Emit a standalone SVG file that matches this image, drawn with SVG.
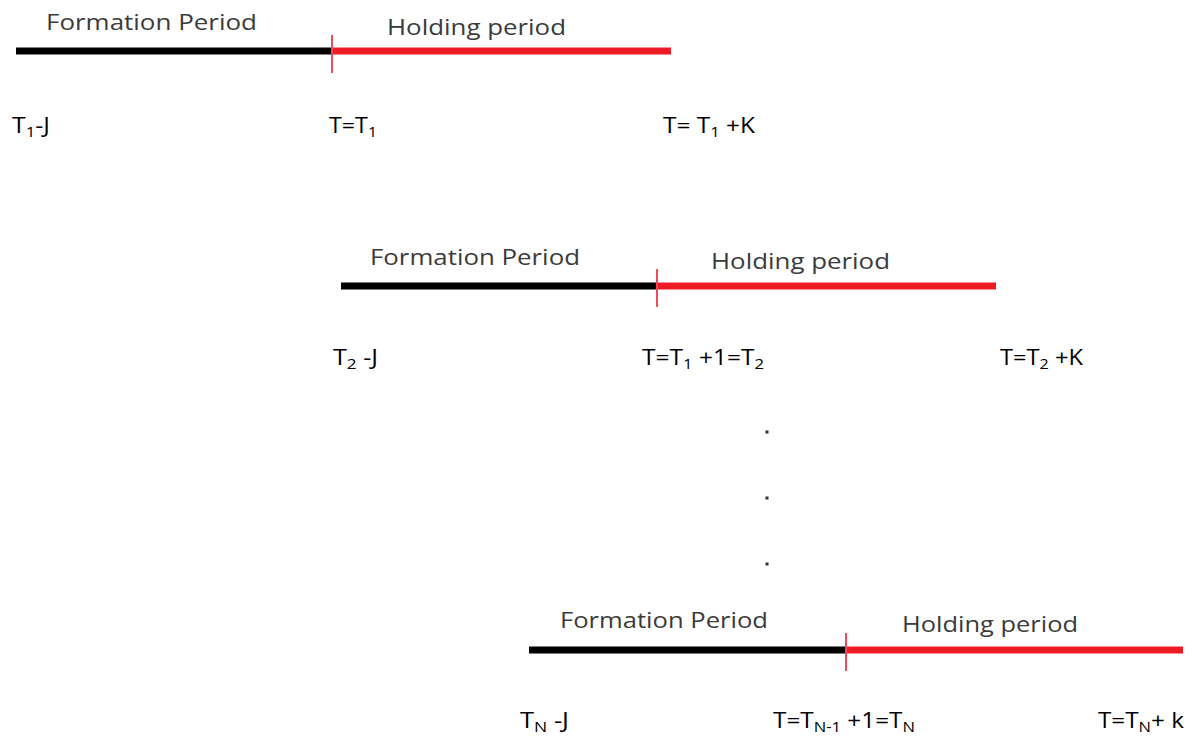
<svg xmlns="http://www.w3.org/2000/svg" width="1193" height="739" viewBox="0 0 1193 739">
<style>
.hdr{font-family:"Open Sans","Liberation Sans",sans-serif;font-size:22px;fill:#3b3b3b}
.lbl{font-family:"Open Sans","Liberation Sans",sans-serif;font-size:22px;fill:#000}
.sub{font-size:15px}
.form{stroke:#000;stroke-width:7;fill:none}
.hold{stroke:#ed1c24;stroke-width:7;fill:none}
.tick{stroke:#ef4a5a;stroke-width:2;fill:none}
.dot{fill:#333}
</style>
<rect width="1193" height="739" fill="#fff"/>
<g id="timeline1">
  <line class="form" x1="16" y1="51" x2="332" y2="51"/>
  <line class="hold" x1="332" y1="51" x2="671" y2="51"/>
  <line class="tick" x1="332" y1="35" x2="332" y2="73"/>
  <text class="hdr" x="46" y="30" textLength="211" lengthAdjust="spacingAndGlyphs">Formation Period</text>
  <text class="hdr" x="387" y="35" textLength="179" lengthAdjust="spacingAndGlyphs">Holding period</text>
  <text class="lbl" x="12" y="133" textLength="38" lengthAdjust="spacingAndGlyphs">T<tspan class="sub" dy="4">1</tspan><tspan dy="-4">-J</tspan></text>
  <text class="lbl" x="329" y="133" textLength="48" lengthAdjust="spacingAndGlyphs">T=T<tspan class="sub" dy="4">1</tspan></text>
  <text class="lbl" x="663" y="133" textLength="92" lengthAdjust="spacingAndGlyphs">T= T<tspan class="sub" dy="4">1</tspan><tspan dy="-4"> +K</tspan></text>
</g>
<g id="timeline2">
  <line class="form" x1="341" y1="286" x2="657" y2="286"/>
  <line class="hold" x1="657" y1="286" x2="996" y2="286"/>
  <line class="tick" x1="657" y1="269" x2="657" y2="307"/>
  <text class="hdr" x="370" y="265" textLength="210" lengthAdjust="spacingAndGlyphs">Formation Period</text>
  <text class="hdr" x="711" y="269" textLength="179" lengthAdjust="spacingAndGlyphs">Holding period</text>
  <text class="lbl" x="333" y="365" textLength="45" lengthAdjust="spacingAndGlyphs">T<tspan class="sub" dy="4">2</tspan><tspan dy="-4"> -J</tspan></text>
  <text class="lbl" x="642" y="365" textLength="122" lengthAdjust="spacingAndGlyphs">T=T<tspan class="sub" dy="4">1</tspan><tspan dy="-4"> +1=T</tspan><tspan class="sub" dy="4">2</tspan></text>
  <text class="lbl" x="1000" y="365" textLength="83" lengthAdjust="spacingAndGlyphs">T=T<tspan class="sub" dy="4">2</tspan><tspan dy="-4"> +K</tspan></text>
</g>
<g id="ellipsis">
  <rect class="dot" x="765.5" y="430.5" width="3" height="3"/>
  <rect class="dot" x="765.5" y="496.5" width="3" height="3"/>
  <rect class="dot" x="765.5" y="562.5" width="3" height="3"/>
</g>
<g id="timeline3">
  <line class="form" x1="529" y1="650" x2="847" y2="650"/>
  <line class="hold" x1="847" y1="650" x2="1183" y2="650"/>
  <line class="tick" x1="846" y1="633" x2="846" y2="671"/>
  <text class="hdr" x="560" y="628" textLength="208" lengthAdjust="spacingAndGlyphs">Formation Period</text>
  <text class="hdr" x="902" y="632" textLength="176" lengthAdjust="spacingAndGlyphs">Holding period</text>
  <text class="lbl" x="520" y="728" textLength="49" lengthAdjust="spacingAndGlyphs">T<tspan class="sub" dy="4">N</tspan><tspan dy="-4"> -J</tspan></text>
  <text class="lbl" x="773" y="728" textLength="142" lengthAdjust="spacingAndGlyphs">T=T<tspan class="sub" dy="4">N-1</tspan><tspan dy="-4"> +1=T</tspan><tspan class="sub" dy="4">N</tspan></text>
  <text class="lbl" x="1098" y="728" textLength="86" lengthAdjust="spacingAndGlyphs">T=T<tspan class="sub" dy="4">N</tspan><tspan dy="-4">+ k</tspan></text>
</g>
<g id="connectors"></g>
</svg>
